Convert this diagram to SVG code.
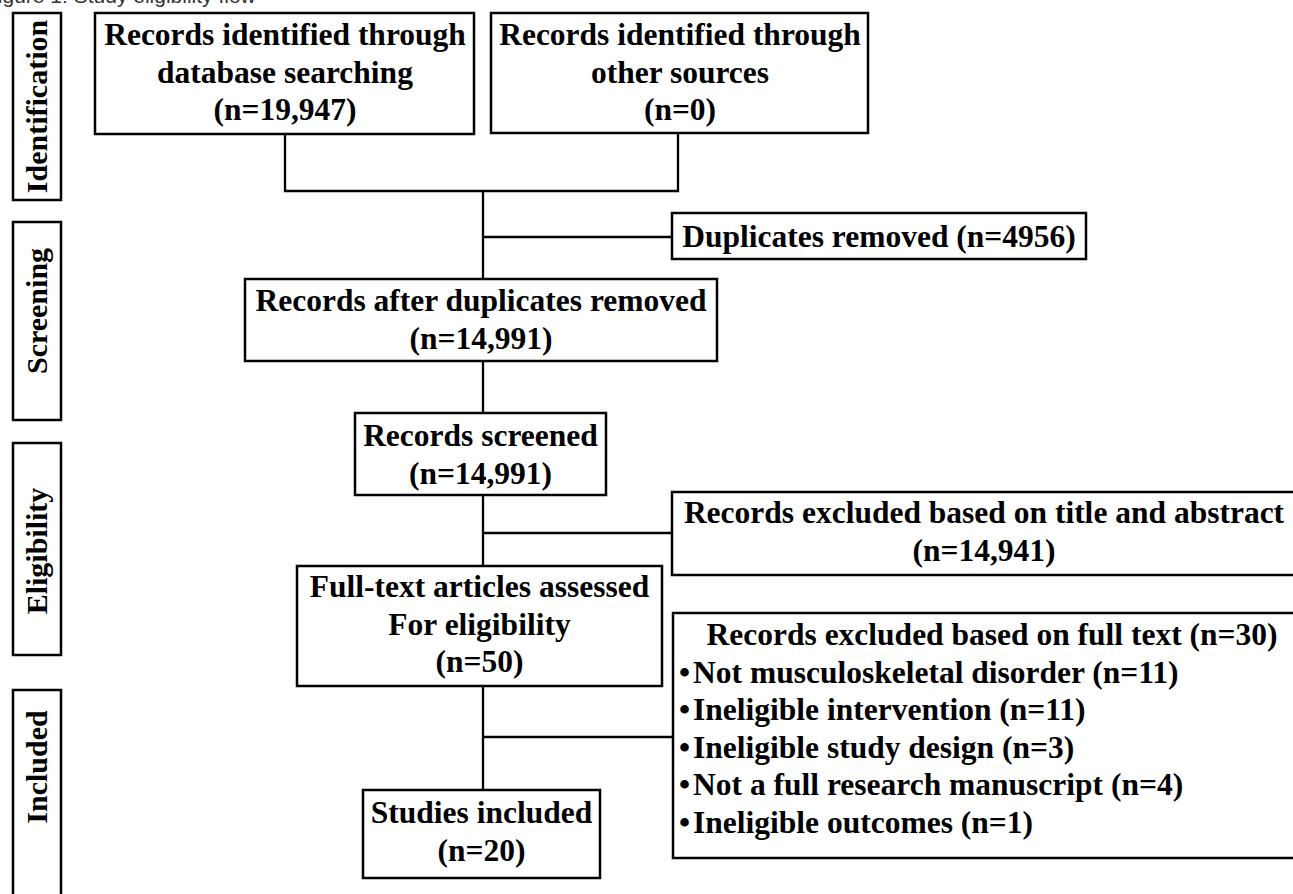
<svg xmlns="http://www.w3.org/2000/svg" width="1293" height="894" viewBox="0 0 1293 894">
<style>
.box{fill:#fff;stroke:#000;stroke-width:2.5}
.t{font-family:"Liberation Serif","Times New Roman",serif;font-weight:bold;font-size:31.5px;fill:#000}
.c{text-anchor:middle}
.ph{font-family:"Liberation Serif","Times New Roman",serif;font-weight:bold;font-size:30px;fill:#000;text-anchor:middle}
.ln{fill:none;stroke:#000;stroke-width:2.3}
.cap{font-family:"Liberation Sans",Arial,sans-serif;font-size:21px;fill:#333}
</style>
<rect width="1293" height="894" fill="#fff"/>
<text class="cap" x="-15" y="2.5">Figure 1: Study eligibility flow</text>
<g id="phase-identification"><rect class="box" x="13" y="13" width="48" height="187"/><text class="ph" transform="translate(47,106.5) rotate(-90)">Identification</text></g>
<g id="phase-screening"><rect class="box" x="13" y="222" width="48" height="198"/><text class="ph" transform="translate(47,311) rotate(-90)">Screening</text></g>
<g id="phase-eligibility"><rect class="box" x="13" y="443" width="48" height="212"/><text class="ph" transform="translate(47,551) rotate(-90)">Eligibility</text></g>
<g id="phase-included"><rect class="box" x="13" y="690" width="48" height="215"/><text class="ph" transform="translate(47,767) rotate(-90)">Included</text></g>
<g id="connectors">
<path class="ln" d="M285,134 V191 H678 V133"/>
<path class="ln" d="M483,191 V279 M483,237 H672"/>
<path class="ln" d="M483,361 V413"/>
<path class="ln" d="M483,495 V566 M483,533 H672"/>
<path class="ln" d="M483,686 V790 M483,737 H673"/>
</g>
<g id="db-search"><rect class="box" x="95" y="13" width="379" height="121"/>
<text class="t c" x="285" y="45">Records identified through</text>
<text class="t c" x="285" y="82.5">database searching</text>
<text class="t c" x="285" y="120">(n=19,947)</text></g>
<g id="other-sources"><rect class="box" x="491" y="13" width="377" height="120"/>
<text class="t c" x="680" y="45">Records identified through</text>
<text class="t c" x="680" y="82.5">other sources</text>
<text class="t c" x="680" y="120">(n=0)</text></g>
<g id="duplicates"><rect class="box" x="672" y="213" width="414" height="46"/>
<text class="t c" x="879" y="247">Duplicates removed (n=4956)</text></g>
<g id="after-duplicates"><rect class="box" x="245" y="279" width="472" height="82"/>
<text class="t c" x="481" y="311">Records after duplicates removed</text>
<text class="t c" x="481" y="348.5">(n=14,991)</text></g>
<g id="screened"><rect class="box" x="355" y="413" width="251" height="82"/>
<text class="t c" x="480.5" y="446">Records screened</text>
<text class="t c" x="480.5" y="483.5">(n=14,991)</text></g>
<g id="excluded-title"><rect class="box" x="672" y="492" width="640" height="83"/>
<text class="t c" x="984" y="523">Records excluded based on title and abstract</text>
<text class="t c" x="984" y="560.5">(n=14,941)</text></g>
<g id="full-text"><rect class="box" x="297" y="566" width="365" height="120"/>
<text class="t c" x="479.5" y="597">Full-text articles assessed</text>
<text class="t c" x="479.5" y="634.5">For eligibility</text>
<text class="t c" x="479.5" y="672">(n=50)</text></g>
<g id="excluded-full"><rect class="box" x="673" y="613" width="640" height="245"/>
<text class="t c" x="992" y="645">Records excluded based on full text (n=30)</text>
<text class="t" x="679" y="682.5">•<tspan dx="3">Not musculoskeletal disorder (n=11)</tspan></text>
<text class="t" x="679" y="720">•<tspan dx="3">Ineligible intervention (n=11)</tspan></text>
<text class="t" x="679" y="757.5">•<tspan dx="3">Ineligible study design (n=3)</tspan></text>
<text class="t" x="679" y="795">•<tspan dx="3">Not a full research manuscript (n=4)</tspan></text>
<text class="t" x="679" y="832.5">•<tspan dx="3">Ineligible outcomes (n=1)</tspan></text></g>
<g id="studies-included"><rect class="box" x="363" y="790" width="237" height="88"/>
<text class="t c" x="481.5" y="823">Studies included</text>
<text class="t c" x="481.5" y="860.5">(n=20)</text></g>
</svg>
